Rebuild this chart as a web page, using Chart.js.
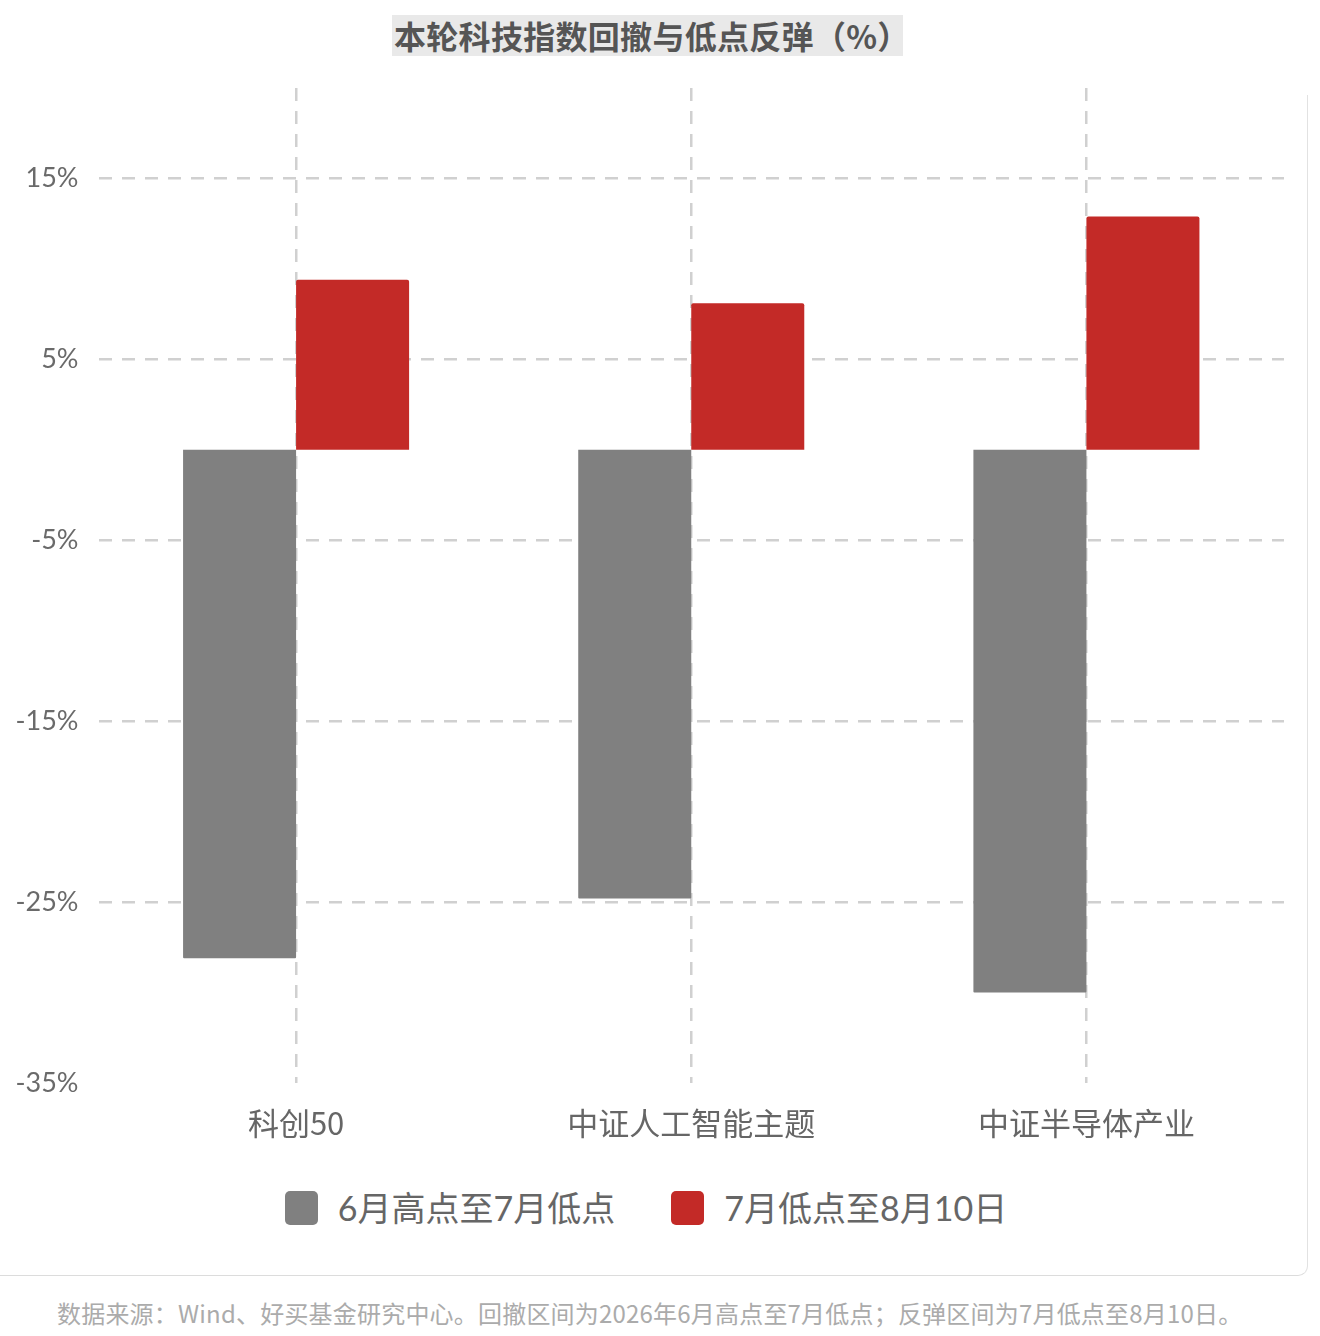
<!DOCTYPE html>
<html lang="zh-CN">
<head>
<meta charset="utf-8">
<title>本轮科技指数回撤与低点反弹</title>
<script src="https://cdn.jsdelivr.net/npm/chart.js@4.4.0/dist/chart.umd.min.js"></script>
<style>
    html, body {
        margin: 0;
        padding: 0;
        background: #fff;
        width: 1320px;
        height: 1336px;
        overflow: hidden;
        font-family: Lato, "Noto Sans CJK SC", sans-serif;
    }
    .title {
        position: absolute;
        left: 392px;
        top: 15px;
        width: 490px;
        height: 41px;
        line-height: 41px;
        padding: 0 19px 0 2px;
        background: #e9e9e9;
        color: #555;
        font-family: "Noto Sans CJK SC", sans-serif;
        font-weight: 700;
        font-size: 32px;
        letter-spacing: 0.3px;
        white-space: nowrap;
    }
    .card {
        position: absolute;
        left: -20px;
        top: 95px;
        width: 1327px;
        height: 1180px;
        border-right: 1.5px solid #e2e2e2;
        border-bottom: 1.5px solid #dcdcdc;
        border-bottom-right-radius: 10px;
    }
    #wrap {
        position: absolute;
        left: 0;
        top: 0;
        width: 1320px;
        height: 1160px;
    }
    .legend {
        position: absolute;
        top: 1186px;
        left: 0;
        width: 1320px;
        display: flex;
        justify-content: center;
        gap: 56px;
        font-size: 34px;
        color: #666;
        padding-right: 28px;
        box-sizing: border-box;
    }
    .legend span {
        display: inline-flex;
        align-items: center;
        white-space: nowrap;
        line-height: 44px;
    }
    .legend i {
        display: inline-block;
        width: 33px;
        height: 34px;
        border-radius: 5px;
        margin-right: 20px;
    }
    .source {
        position: absolute;
        left: 57px;
        top: 1295px;
        font-size: 24px;
        color: #ababab;
        white-space: nowrap;
        letter-spacing: 0.2px;
        font-family: "Noto Sans CJK SC", sans-serif;
    }
</style>
</head>
<body>
<div class="card"></div>
<div class="title">本轮科技指数回撤与低点反弹（%）</div>
<div id="wrap"><canvas id="chart"></canvas></div>
<div class="legend" id="legend"></div>
<div class="source">数据来源：Wind、好买基金研究中心。回撤区间为2026年6月高点至7月低点；反弹区间为7月低点至8月10日。</div>

<script>
// Chart data
const categories = ["科创50", "中证人工智能主题", "中证半导体产业"];
const seriesNames = ["6月高点至7月低点", "7月低点至8月10日"];
const drawdown = [-28.1, -24.8, -30.0];
const rebound = [9.4, 8.1, 12.9];
const yTicks = [-35, -25, -15, -5, 5, 15];
const seriesColors = ["#808080", "#c32a27"];

const gridColor = "#d0d0d0";

const ctx = document.getElementById("chart").getContext("2d");
const chart = new Chart(ctx, {
    type: "bar",
    data: {
        labels: categories,
        datasets: [
            {
                label: seriesNames[0],
                data: drawdown,
                backgroundColor: seriesColors[0],
                borderRadius: 1,
                borderSkipped: "start",
            },
            {
                label: seriesNames[1],
                data: rebound,
                backgroundColor: seriesColors[1],
                borderRadius: 2,
                borderSkipped: "start",
            },
        ],
    },
    options: {
        responsive: true,
        maintainAspectRatio: false,
        animation: false,
        layout: {
            padding: { top: 88, right: 36, left: 0, bottom: 0 },
        },
        datasets: {
            bar: {
                categoryPercentage: 0.572,
                barPercentage: 1,
            },
        },
        plugins: {
            legend: { display: false },
            tooltip: { enabled: false },
        },
        scales: {
            x: {
                grid: {
                    offset: false,
                    color: gridColor,
                    lineWidth: 2.5,
                    drawTicks: false,
                },
                border: { display: false, dash: [13, 10] },
                ticks: {
                    color: "#666",
                    padding: 22,
                    font: { family: "'Noto Sans CJK SC', sans-serif", size: 31 },
                },
                afterFit: (scale) => {
                    scale.height = 77;
                },
            },
            y: {
                min: -35,
                max: 20,
                afterBuildTicks: (scale) => {
                    scale.ticks = yTicks.map((v) => ({ value: v }));
                },
                grid: {
                    // no line on the bottom tick
                    color: (c) => (c.tick && c.tick.value === yTicks[0] ? "rgba(0,0,0,0)" : gridColor),
                    lineWidth: 2.5,
                    drawTicks: false,
                },
                border: { display: false, dash: [13, 10] },
                ticks: {
                    color: "#6a6a6a",
                    padding: 20,
                    font: { family: "Lato, sans-serif", size: 27 },
                    callback: (value) => value + "%",
                },
                afterFit: (scale) => {
                    scale.width = 98.5;
                },
            },
        },
    },
});

// Legend built from the series
document.getElementById("legend").innerHTML = seriesNames
    .map((name, i) => `<span><i style="background:${seriesColors[i]}"></i>${name}</span>`)
    .join("");
</script>
</body>
</html>
